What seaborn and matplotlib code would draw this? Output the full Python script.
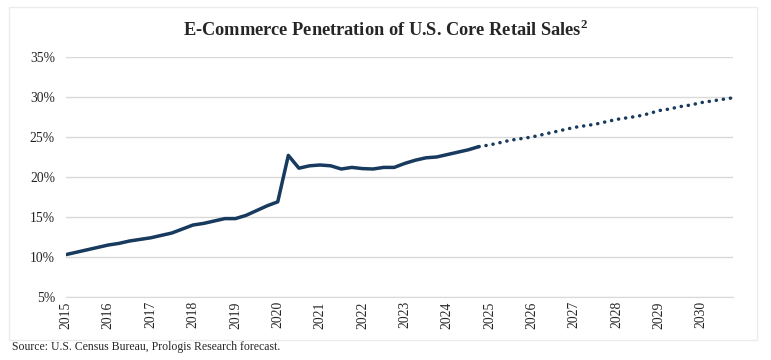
import numpy as np
import pandas as pd
import matplotlib
matplotlib.use('Agg')
import matplotlib.pyplot as plt
import seaborn as sns
from matplotlib.patches import Rectangle
from matplotlib.ticker import FuncFormatter

# quarterly e-commerce share of core retail sales (%)
hist_years = [2015, 2016, 2017, 2018, 2019, 2020, 2021, 2022, 2023, 2024]
hist_values = [
    10.3, 10.6, 10.9, 11.2,
    11.5, 11.7, 12.0, 12.2,
    12.4, 12.7, 13.0, 13.5,
    14.0, 14.2, 14.5, 14.8,
    14.8, 15.2, 15.8, 16.4,
    16.9, 22.7, 21.1, 21.4,
    21.5, 21.4, 21.0, 21.2,
    21.05, 21.0, 21.2, 21.2,
    21.7, 22.1, 22.4, 22.5,
    22.8, 23.1, 23.4, 23.8,
]
fc_years = [2025, 2026, 2027, 2028, 2029, 2030]
fc_values = [
    24.0, 24.3, 24.6, 24.8,
    25.0, 25.3, 25.6, 25.9,
    26.2, 26.4, 26.6, 26.9,
    27.2, 27.4, 27.6, 27.9,
    28.3, 28.5, 28.8, 29.0,
    29.3, 29.5, 29.7, 29.9,
]
year_ticks = list(range(2015, 2031))
pct_ticks = [5, 10, 15, 20, 25, 30, 35]

quarters = [0, 0.25, 0.5, 0.75]
hist = pd.DataFrame({'t': [y + q for y in hist_years for q in quarters],
                     'v': hist_values})
# forecast starts from the last actual point so the line is continuous
fc = pd.DataFrame({'t': [hist['t'].iloc[-1]] + [y + q for y in fc_years for q in quarters],
                   'v': [hist['v'].iloc[-1]] + fc_values})

sns.set_style('white')
plt.rcParams['font.family'] = ['Liberation Serif', 'DejaVu Serif']
plt.rcParams['mathtext.fontset'] = 'custom'
plt.rcParams['mathtext.rm'] = 'Liberation Serif'
plt.rcParams['mathtext.bf'] = 'Liberation Serif:bold'

navy = '#173a5e'
fig = plt.figure(figsize=(7.71, 3.60), dpi=100)
ax = fig.add_axes([66 / 771, 1 - 297 / 360, (733 - 66) / 771, (297 - 57) / 360])

sns.lineplot(data=hist, x='t', y='v', ax=ax, color=navy, linewidth=2.5,
             solid_capstyle='round', solid_joinstyle='round')
sns.lineplot(data=fc, x='t', y='v', ax=ax, color=navy, linewidth=2.5,
             linestyle=(0, (0.05, 2.0)), dash_capstyle='round')

ax.set_xlim(2015, 2030.75)
ax.set_ylim(5, 35)
ax.set_xticks(year_ticks)
ax.set_xticklabels([str(y) for y in year_ticks], rotation=90, fontsize=9.8)
ax.set_yticks(pct_ticks)
ax.yaxis.set_major_formatter(FuncFormatter(lambda v, p: f'{v:.0f}%'))
ax.tick_params(axis='y', labelsize=9.8, length=0, pad=8)
ax.tick_params(axis='x', length=0, pad=3)
ax.set_xlabel('')
ax.set_ylabel('')
ax.grid(axis='y', color='#d9d9d9', linewidth=1)
ax.grid(axis='x', visible=False)
for s in ['top', 'right', 'left']:
    ax.spines[s].set_visible(False)
ax.spines['bottom'].set_color('#d9d9d9')

fig.text(0.5, 1 - 30 / 360, r'E-Commerce Penetration of U.S. Core Retail Sales$^{\mathbf{2}}$',
         ha='center', va='center', fontsize=13.2, fontweight='bold')
fig.text(12 / 771, 1 - 347 / 360, 'Source: U.S. Census Bureau, Prologis Research forecast.',
         ha='left', va='center', fontsize=8.5)
fig.patches.append(Rectangle((9 / 771, 1 - 340 / 360), (757 - 9) / 771, (340 - 7) / 360,
                             transform=fig.transFigure, fill=False,
                             edgecolor='#ececec', linewidth=1))

fig.savefig('out.png', dpi=100)
